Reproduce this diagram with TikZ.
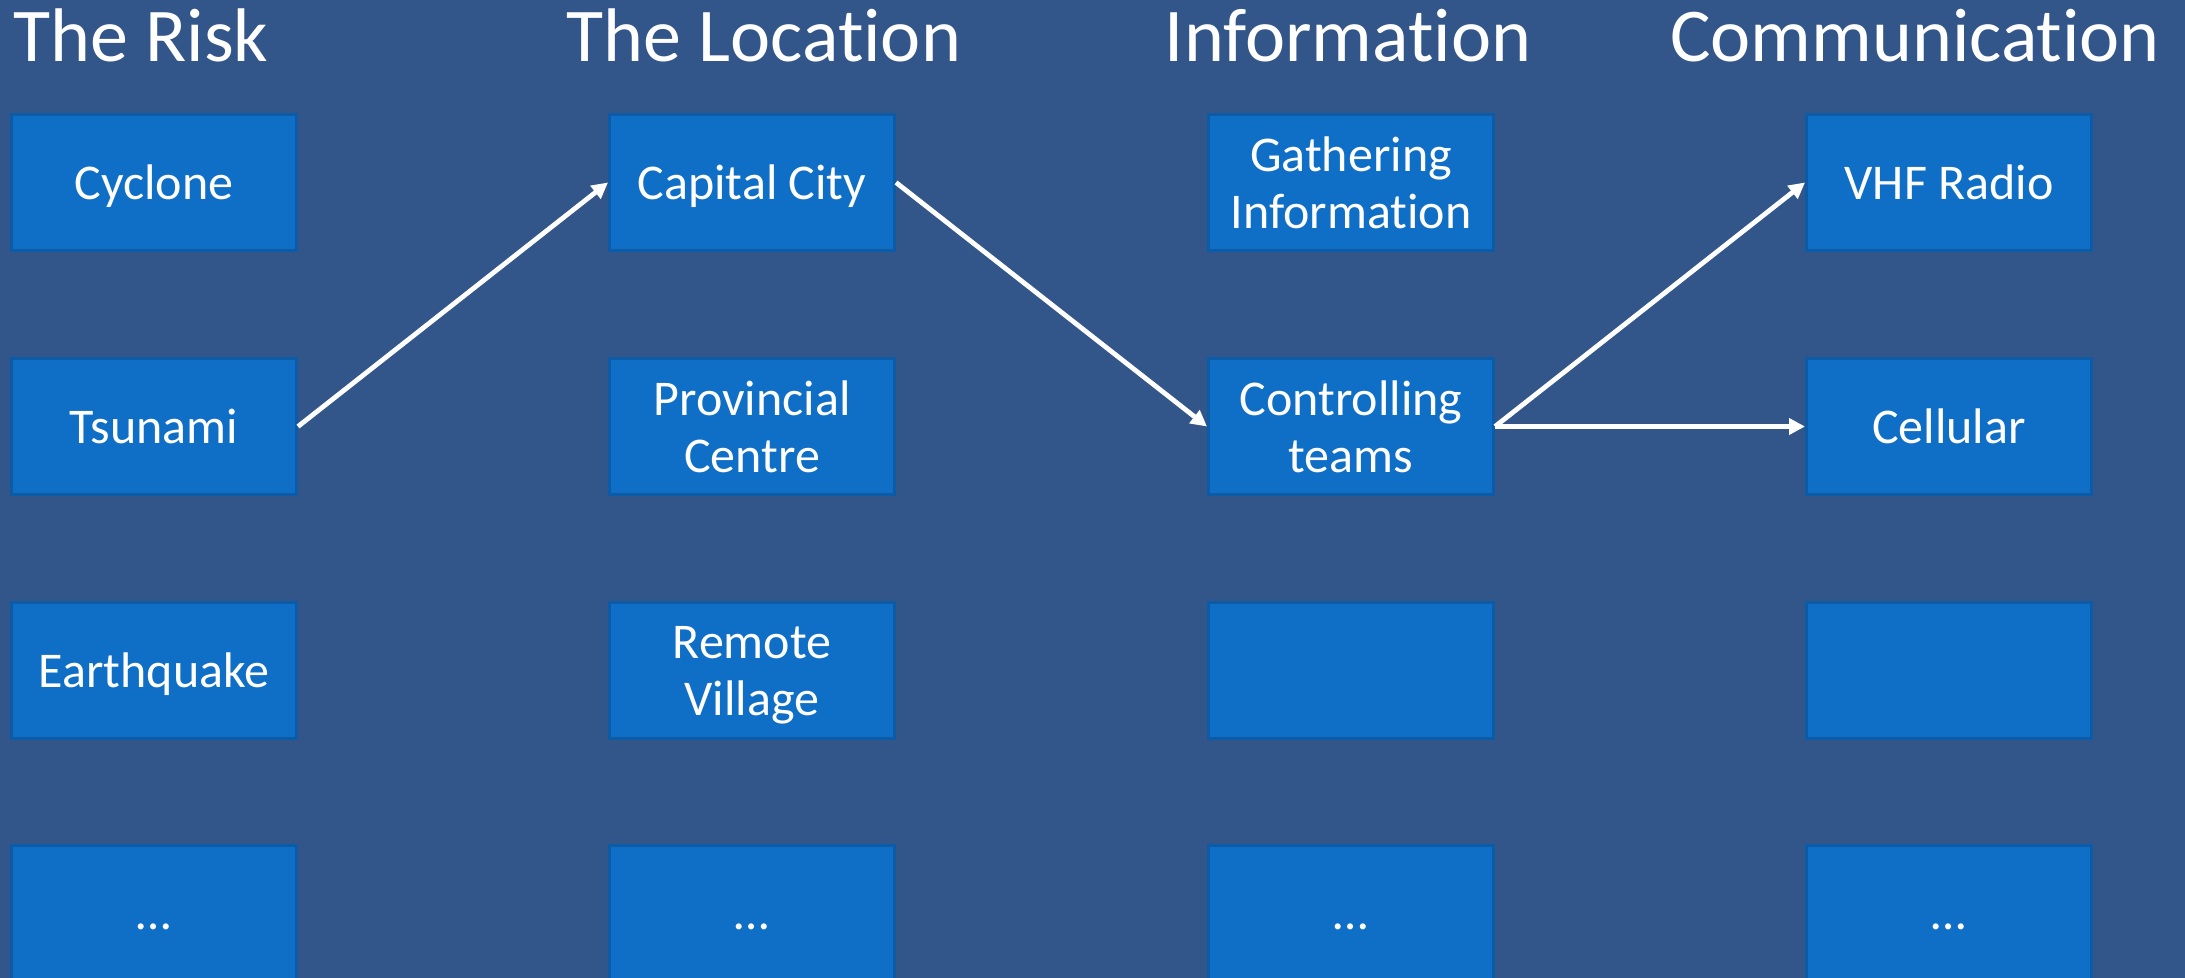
\documentclass[tikz,border=0pt]{standalone}
\usepackage{fontspec}
\setmainfont[Ligatures=NoCommon]{Carlito}
\usetikzlibrary{arrows.meta}
\definecolor{bgblue}{HTML}{32558A}
\definecolor{boxfill}{HTML}{0F6FC6}
\definecolor{boxline}{HTML}{0C5BA6}
\newcommand{\moredots}{\vphantom{C}…}
\tikzset{
  box/.style={draw=boxline, fill=boxfill, line width=1.5pt, minimum width=142.5pt, minimum height=68pt,
    inner sep=0pt, text=white, align=center, text depth=0pt, font=\fontsize{25}{28.5}\selectfont},
  title/.style={text=white, font=\fontsize{38}{44}\selectfont, anchor=base, inner sep=0pt},
  conn/.style={draw=white, line width=2.4pt, -{Triangle[length=8pt,width=8pt]}}
}
\begin{document}
\begin{tikzpicture}[x=0.5pt,y=-0.5pt]
\fill[bgblue] (0,0) rectangle (2185,978);
\useasboundingbox (0,0) rectangle (2185,978);
\clip (0,0) rectangle (2185,978);
% titles
\node[title] (t1) at (141,62) {The Risk};
\node[title] (t2) at (764,62) {The Location};
\node[title] (t3) at (1348,62) {Information};
\node[title] (t4) at (1915,62) {Communication};
% column 1
\node[box] (a1) at (154,182.5) {Cyclone};
\node[box] (a2) at (154,426.5) {Tsunami};
\node[box] (a3) at (154,670.5) {Earthquake};
\node[box] (a4) at (154,913.5) {\moredots};
% column 2
\node[box] (b1) at (752,182.5) {Capital City};
\node[box] (b2) at (752,426.5) {Provincial\\Centre};
\node[box] (b3) at (752,670.5) {Remote\\Village};
\node[box] (b4) at (752,913.5) {\moredots};
% column 3
\node[box] (c1) at (1351,182.5) {Gathering\\Information};
\node[box] (c2) at (1351,426.5) {Controlling\\teams};
\node[box] (c3) at (1351,670.5) {};
\node[box] (c4) at (1351,913.5) {\moredots};
% column 4
\node[box] (d1) at (1949,182.5) {VHF Radio};
\node[box] (d2) at (1949,426.5) {Cellular};
\node[box] (d3) at (1949,670.5) {};
\node[box] (d4) at (1949,913.5) {\moredots};
% connectors
\draw[conn] (a2.east) -- (b1.west);
\draw[conn] (b1.east) -- (c2.west);
\draw[conn] (c2.east) -- (d1.west);
\draw[conn] (c2.east) -- (d2.west);
\end{tikzpicture}
\end{document}
